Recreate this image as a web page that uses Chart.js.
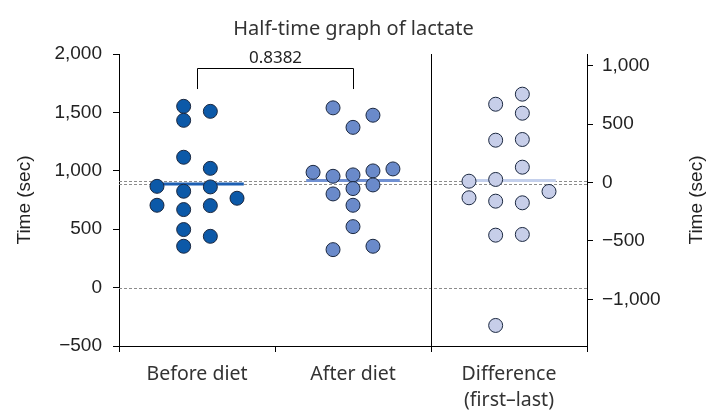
<!DOCTYPE html>
<html>
<head>
<meta charset="utf-8">
<script src="https://cdn.jsdelivr.net/npm/chart.js@4.4.1/dist/chart.umd.min.js"></script>
<style>
  html, body { margin: 0; padding: 0; background: #fff; }
  #wrap { width: 707px; height: 412px; }
</style>
</head>
<body>
<div id="wrap"><canvas id="c" width="707" height="412"></canvas></div>
<script>
// Half-time of lactate (sec), 15 subjects
const groups = ['Before diet', 'After diet', ['Difference', '(first\u2013last)']];
const beforeDiet = [1552, 1432, 1509, 1116, 1021, 867, 825, 862, 765, 705, 668, 702, 497, 439, 354];
const afterDiet  = [1539, 1476, 1372, 987, 953, 965, 999, 1016, 802, 848, 879, 705, 522, 325, 354];
const difference = [756, 670, 593, 362, 368, 131, 11, 26, -77, -131, -160, -174, -451, -445, -1224];
const pValue = '0.8382';
const leftTicks  = [-500, 0, 500, 1000, 1500, 2000];
const rightTicks = [-1000, -500, 0, 500, 1000];

// beeswarm dodge slots (one per value) so overlapping dots sit side by side
const beforeSlots = [-0.5, -0.5, 0.5, -0.5, 0.5, -1.5, -0.5, 0.5, 1.5, -1.5, -0.5, 0.5, -0.5, 0.5, -0.5];
const afterSlots  = [-1, 1, 0, -2, -1, 0, 1, 2, -1, 0, 1, 0, 0, -1, 1];
const diffSlots   = [0.5, -0.5, 0.5, -0.5, 0.5, 0.5, -1.5, -0.5, 1.5, -1.5, -0.5, 0.5, -0.5, 0.5, -0.5];

const mean = a => a.reduce((s, v) => s + v, 0) / a.length;
const meanBefore = mean(beforeDiet);
const meanAfter = mean(afterDiet);
const meanDiff = mean(difference);

// the difference axis is shifted so that its zero sits at the left-axis value below
const rightShift = 900;

const swarm = (vals, slots, center, step) =>
  vals.map((v, i) => ({ x: center + slots[i] * step, y: v }));
const meanSeg = (center, m) => [{ x: center - 0.3, y: m }, { x: center + 0.3, y: m }];

const EDGE = '#1b2840';
const COLORS = {
  before: '#0c59a8', beforeLine: '#1d5fb2',
  after: '#6a8aca', afterLine: '#7090d2',
  diff: '#c7cee9', diffLine: '#c4d0ec'
};

const tickFont = { family: "'Liberation Sans', Arial, sans-serif", size: 19 };
const textFont = { family: "'Noto Sans', sans-serif", size: 19.5 };

const fmt = v => {
  const s = Math.abs(v).toLocaleString('en-US');
  return v < 0 ? '\u2212' + s : s;
};

const overlay = {
  id: 'overlay',
  beforeDatasetsDraw(chart) {
    const { ctx, chartArea: a, scales } = chart;
    const y = scales.y, x = scales.x;
    ctx.save();
    // reference dashes: zero and the two group means
    ctx.strokeStyle = '#8c8c8c';
    ctx.lineWidth = 1;
    ctx.setLineDash([3, 2]);
    [0, meanBefore, meanAfter].forEach(v => {
      const py = Math.round(y.getPixelForValue(v)) + 0.5;
      ctx.beginPath(); ctx.moveTo(a.left, py); ctx.lineTo(a.right, py); ctx.stroke();
    });
    ctx.setLineDash([]);
    // separator before the difference panel
    const sx = Math.round(x.getPixelForValue(1.5)) + 0.5;
    ctx.strokeStyle = '#000';
    ctx.beginPath(); ctx.moveTo(sx, a.top); ctx.lineTo(sx, a.bottom); ctx.stroke();
    ctx.restore();
  },
  afterDraw(chart) {
    const { ctx, chartArea: a, scales } = chart;
    const y = scales.y, x = scales.x;
    ctx.save();
    // comparison bracket between the two diet groups
    const x0 = Math.round(x.getPixelForValue(0)) + 0.5;
    const x1 = Math.round(x.getPixelForValue(1)) + 0.5;
    const yt = Math.round(y.getPixelForValue(1880)) + 0.5;
    const yb = y.getPixelForValue(1700);
    ctx.strokeStyle = '#000';
    ctx.lineWidth = 1;
    ctx.beginPath();
    ctx.moveTo(x0, yb); ctx.lineTo(x0, yt); ctx.lineTo(x1, yt); ctx.lineTo(x1, yb);
    ctx.stroke();
    ctx.fillStyle = '#222';
    ctx.font = "17px 'Noto Sans', sans-serif";
    ctx.textAlign = 'center';
    ctx.textBaseline = 'middle';
    ctx.fillText(pValue, (x0 + x1) / 2, yt - 10);
    // right axis title, reading upward
    ctx.font = "19px 'Liberation Sans', Arial, sans-serif";
    ctx.translate(697, (a.top + a.bottom) / 2);
    ctx.rotate(-Math.PI / 2);
    ctx.fillText('Time (sec)', 0, 0);
    ctx.restore();
  }
};

new Chart(document.getElementById('c'), {
  type: 'scatter',
  data: {
    datasets: [
      { type: 'line', data: meanSeg(0, meanBefore), borderColor: COLORS.beforeLine, borderWidth: 3, pointRadius: 0, order: 3, yAxisID: 'y' },
      { type: 'line', data: meanSeg(1, meanAfter), borderColor: COLORS.afterLine, borderWidth: 3, pointRadius: 0, order: 3, yAxisID: 'y' },
      { type: 'line', data: meanSeg(2, meanDiff), borderColor: COLORS.diffLine, borderWidth: 3, pointRadius: 0, order: 3, yAxisID: 'y2' },
      { data: swarm(beforeDiet, beforeSlots, 0, 0.171), backgroundColor: COLORS.before, borderColor: EDGE, borderWidth: 1, pointRadius: 7, order: 1, yAxisID: 'y' },
      { data: swarm(afterDiet, afterSlots, 1, 0.128), backgroundColor: COLORS.after, borderColor: EDGE, borderWidth: 1, pointRadius: 7, order: 1, yAxisID: 'y' },
      { data: swarm(difference, diffSlots, 2, 0.171), backgroundColor: COLORS.diff, borderColor: EDGE, borderWidth: 1, pointRadius: 7, order: 1, yAxisID: 'y2' }
    ]
  },
  options: {
    responsive: false,
    animation: false,
    layout: { padding: 0 },
    plugins: {
      legend: { display: false },
      tooltip: { enabled: false },
      title: {
        display: true,
        text: 'Half-time graph of lactate',
        font: { family: "'Noto Sans', sans-serif", size: 20, weight: 'normal' },
        color: '#333',
        padding: { top: 17, bottom: 13 }
      }
    },
    scales: {
      x: { type: 'linear', min: -0.5, max: 2.5, display: false },
      xc: {
        type: 'category',
        position: 'bottom',
        labels: groups,
        offset: true,
        grid: { offset: true, drawOnChartArea: false, tickLength: 6, color: '#000' },
        border: { color: '#000' },
        ticks: { font: { ...textFont, lineHeight: 1.3 }, color: '#333', padding: 10, maxRotation: 0 },
        afterFit: s => { s.height = 66; }
      },
      y: {
        position: 'left',
        min: -500, max: 2000,
        afterBuildTicks: s => { s.ticks = leftTicks.map(v => ({ value: v })); },
        grid: { drawOnChartArea: false, tickLength: 6, color: '#000' },
        border: { color: '#000' },
        ticks: { font: tickFont, color: '#222', padding: 11, callback: fmt },
        title: { display: true, text: 'Time (sec)', font: tickFont, color: '#222', padding: { top: 13, bottom: 0 } },
        afterFit: s => { s.width = 119; }
      },
      y2: {
        position: 'right',
        min: -500 - rightShift, max: 2000 - rightShift,
        afterBuildTicks: s => { s.ticks = rightTicks.map(v => ({ value: v })); },
        grid: { drawOnChartArea: false, tickLength: 6, color: '#000' },
        border: { color: '#000' },
        ticks: { font: tickFont, color: '#222', padding: 9, callback: fmt },
        afterFit: s => { s.width = 120; }
      }
    }
  },
  plugins: [overlay]
});
</script>
</body>
</html>
